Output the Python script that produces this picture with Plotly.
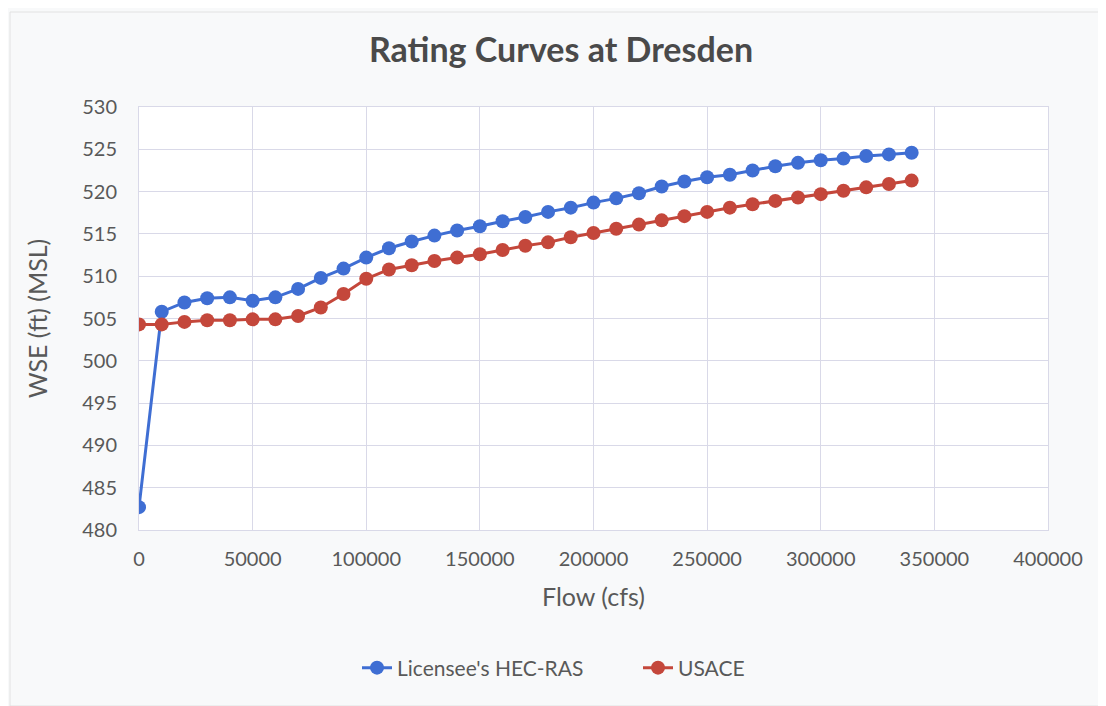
import plotly.graph_objects as go

flow = [i * 10000 for i in range(35)]
hec_ras = [482.7, 505.8, 506.9, 507.4, 507.5, 507.1, 507.5, 508.5, 509.8, 510.9,
           512.2, 513.3, 514.1, 514.8, 515.4, 515.9, 516.5, 517.0, 517.6, 518.1,
           518.7, 519.2, 519.8, 520.6, 521.2, 521.7, 522.0, 522.5, 523.0, 523.4,
           523.7, 523.9, 524.2, 524.4, 524.6]
usace = [504.3, 504.3, 504.6, 504.8, 504.8, 504.9, 504.9, 505.3, 506.3, 507.9,
         509.7, 510.8, 511.3, 511.8, 512.2, 512.6, 513.1, 513.6, 514.0, 514.6,
         515.1, 515.6, 516.1, 516.6, 517.1, 517.6, 518.1, 518.5, 518.9, 519.3,
         519.7, 520.1, 520.5, 520.9, 521.3]
series_names = ["Licensee's HEC-RAS", "USACE"]
x_ticks = [0, 50000, 100000, 150000, 200000, 250000, 300000, 350000, 400000]
y_ticks = [480, 485, 490, 495, 500, 505, 510, 515, 520, 525, 530]

BLUE = "#3F6ED3"
RED = "#C4473B"
FONT = "Lato, 'Open Sans', sans-serif"
TXT = "#595959"

fig = go.Figure()
fig.add_trace(go.Scatter(x=flow, y=hec_ras, name=series_names[0], mode="lines+markers",
                         line=dict(color=BLUE, width=3), marker=dict(color=BLUE, size=14)))
fig.add_trace(go.Scatter(x=flow, y=usace, name=series_names[1], mode="lines+markers",
                         line=dict(color=RED, width=3), marker=dict(color=RED, size=14)))

fig.update_layout(
    width=1106, height=706,
    margin=dict(l=131, r=66, t=99, b=184),
    paper_bgcolor="#F8F9FA", plot_bgcolor="#FFFFFF",
    font=dict(family=FONT, color=TXT, size=20),
    title=dict(text="<b>Rating Curves at Dresden</b>", x=0.5, xref="container",
               y=1 - 42 / 706, yref="container", yanchor="middle",
               font=dict(size=34, color="#4A4A4A", family=FONT)),
    showlegend=True,
    legend=dict(orientation="h", xref="container", x=349 / 1106, xanchor="left",
                yref="container", y=1 - 660 / 706, yanchor="middle",
                font=dict(size=21, color=TXT), entrywidth=236, entrywidthmode="pixels",
                bgcolor="rgba(0,0,0,0)"),
    xaxis=dict(range=[0, 400000], tickvals=x_ticks, ticktext=[str(v) for v in x_ticks],
               showgrid=True, gridcolor="#D9D9E8", gridwidth=1, zeroline=False,
               showline=True, linecolor="#D9D9E8", mirror=True,
               ticklabelstandoff=11, tickfont=dict(size=20, color=TXT),
               title=dict(text="Flow (cfs)", font=dict(size=25, color=TXT), standoff=19)),
    yaxis=dict(range=[480, 530], tickvals=y_ticks,
               showgrid=True, gridcolor="#D9D9E8", gridwidth=1, zeroline=False,
               showline=True, linecolor="#D9D9E8", mirror=True,
               ticklabelstandoff=17, tickfont=dict(size=20, color=TXT),
               title=dict(text="WSE (ft) (MSL)", font=dict(size=25, color=TXT), standoff=27)),
)
fig.add_shape(type="rect", xref="paper", yref="paper", x0=-129 / 909, x1=1 + 58 / 909,
              y0=-176 / 423, y1=1 + 95 / 423, line=dict(color="#E2E2E2", width=1),
              fillcolor="rgba(0,0,0,0)", layer="below")

fig.write_html("out.html")
